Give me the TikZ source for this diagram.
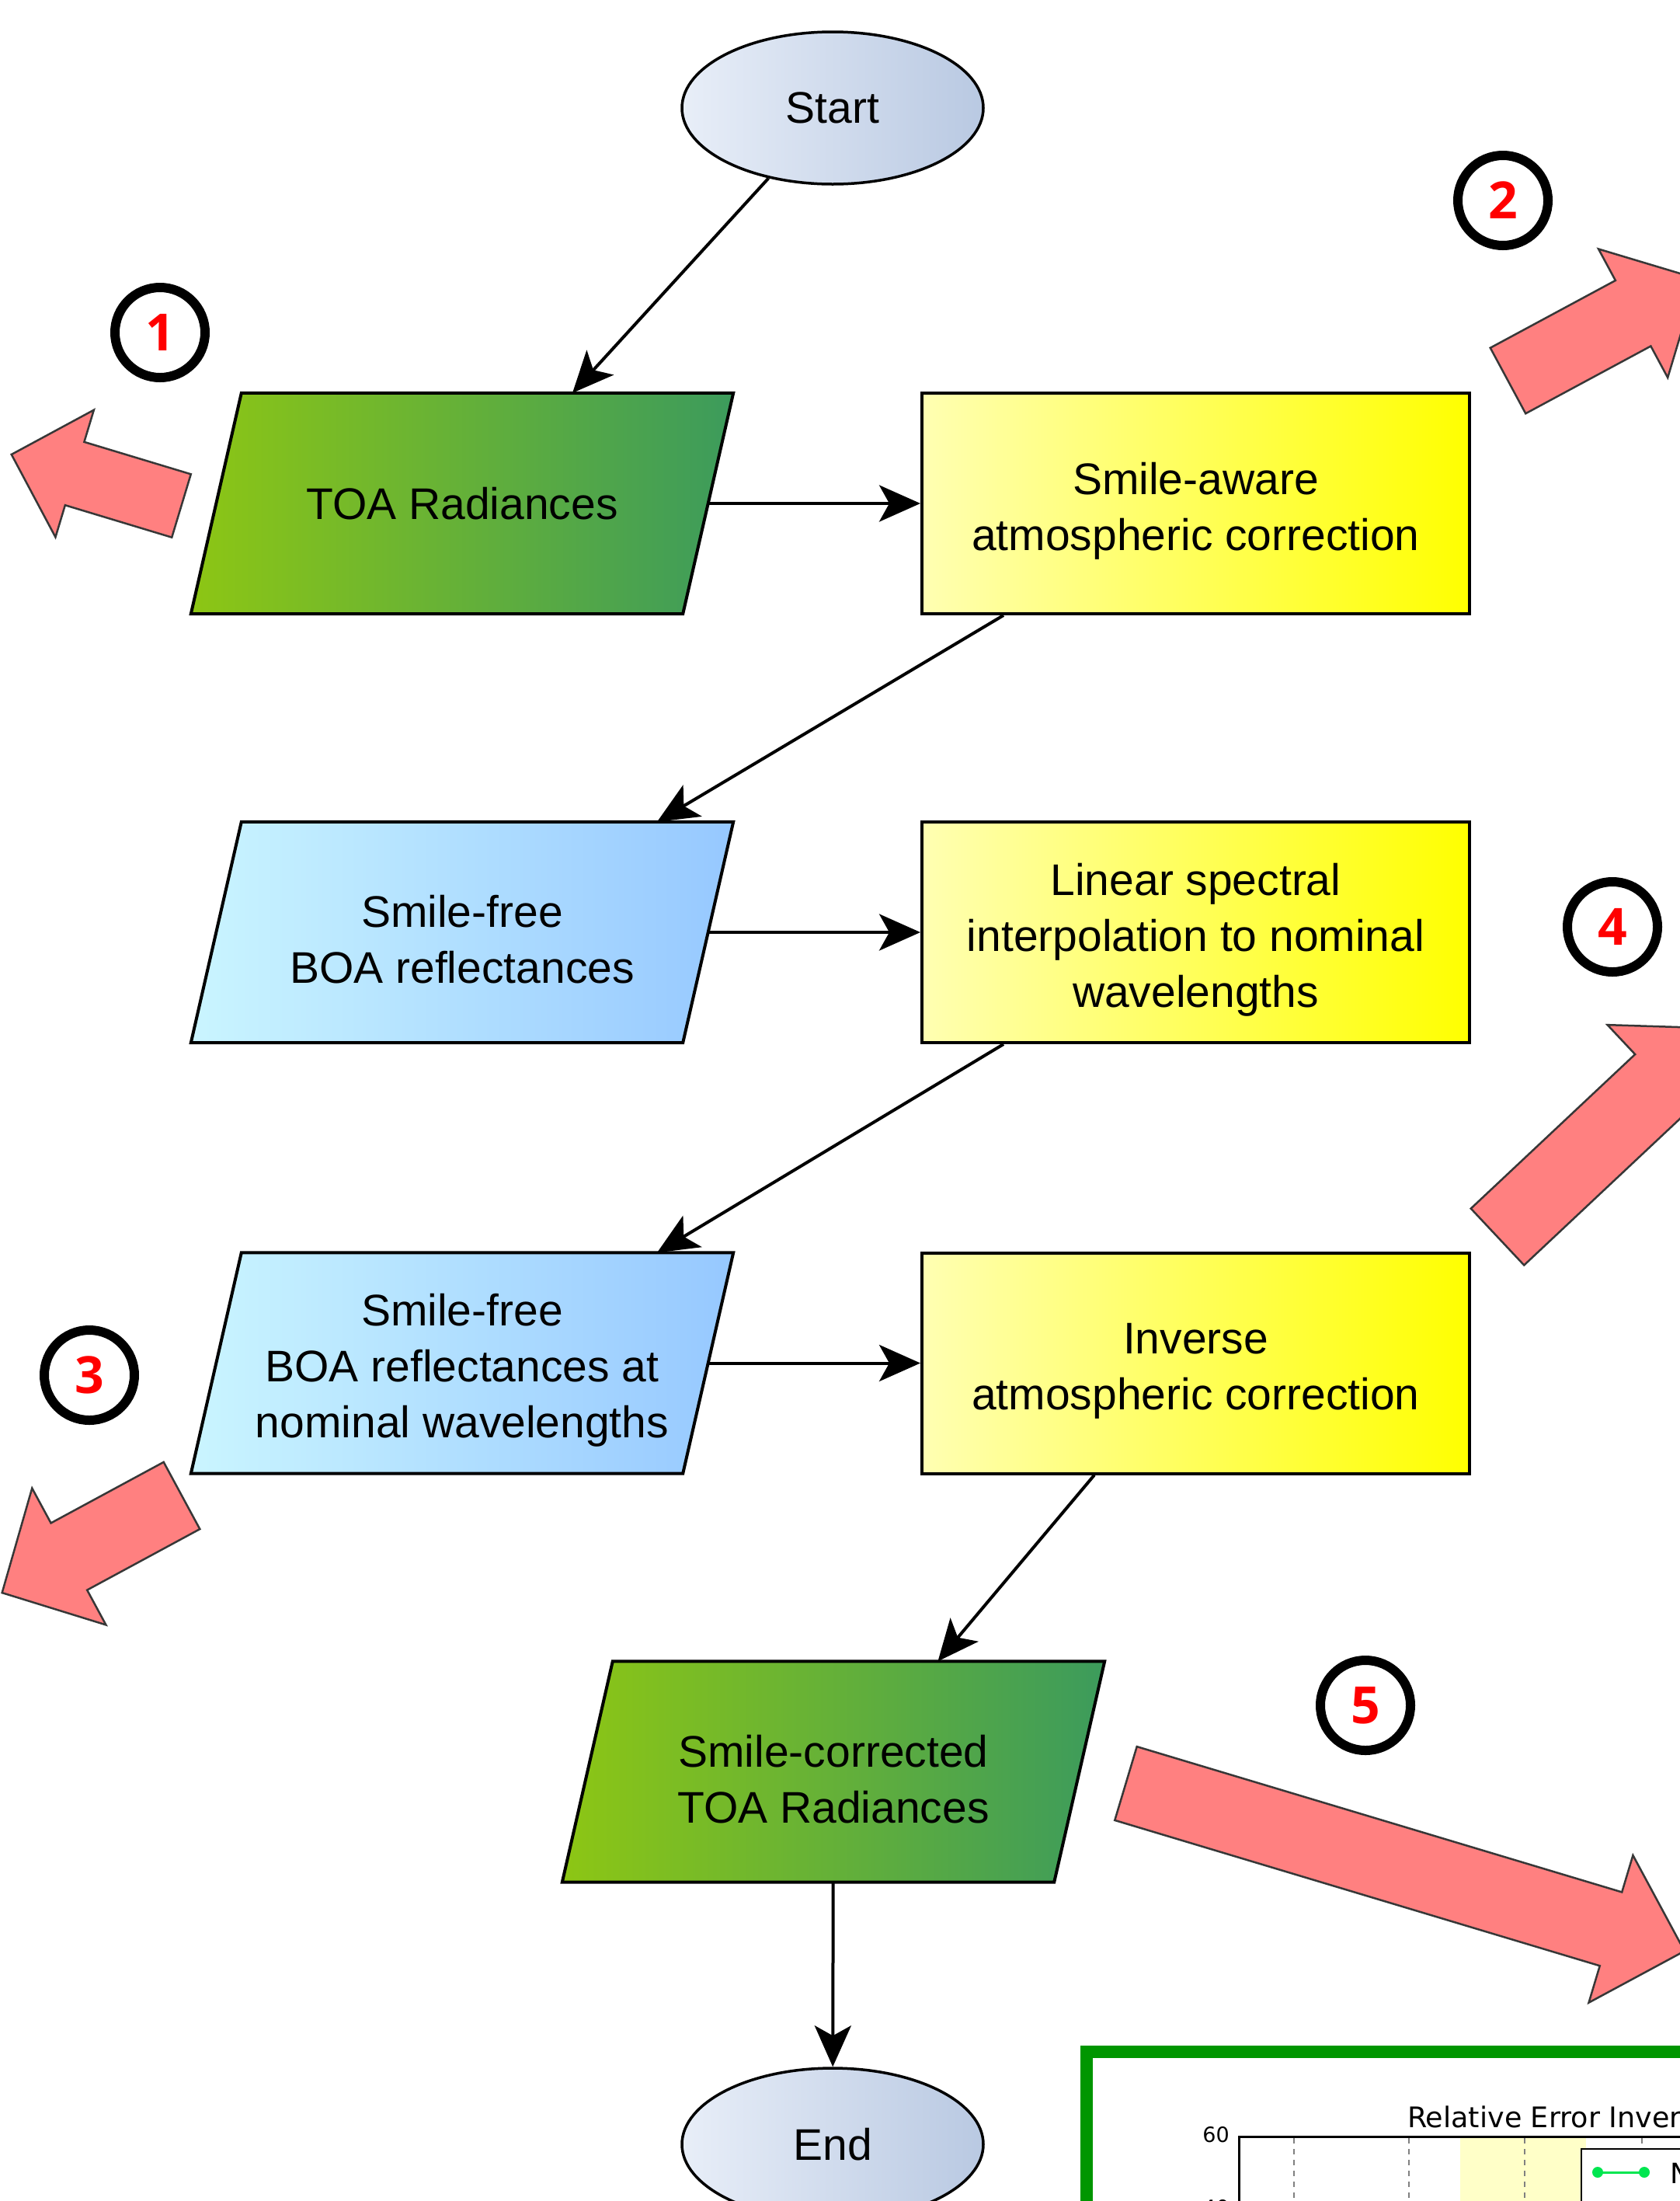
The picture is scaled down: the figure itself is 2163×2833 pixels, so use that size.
\documentclass[tikz,border=0pt]{standalone}
\usepackage{fontspec}
\setmainfont{Liberation Sans}
\newfontfamily\numfont{Open Sans}
\newfontfamily\chartfont{DejaVu Sans}
\usetikzlibrary{shapes.geometric,arrows.meta,calc}
\pgfdeclarelayer{bg}
\pgfsetlayers{bg,main}
\definecolor{ylo}{RGB}{255,255,178}
\definecolor{yhi}{RGB}{255,255,0}
\definecolor{glo}{RGB}{141,198,20}
\definecolor{ghi}{RGB}{60,155,92}
\definecolor{blo}{RGB}{202,245,255}
\definecolor{bhi}{RGB}{150,200,255}
\definecolor{elo}{RGB}{232,238,248}
\definecolor{ehi}{RGB}{185,201,226}
\definecolor{salmon}{RGB}{255,128,128}
\definecolor{arrowedge}{RGB}{55,55,55}
\definecolor{framegreen}{RGB}{0,150,0}
\definecolor{legendgreen}{RGB}{0,230,80}
\definecolor{bandyellow}{RGB}{255,255,200}
\newcommand\firstline{\rule{0pt}{60pt}}
\tikzset{
  txt/.style={font=\fontsize{57}{72}\selectfont, align=center},
  box/.style={txt, draw, line width=4pt, minimum width=705pt, minimum height=284pt,
    inner sep=0pt, left color=ylo, right color=yhi},
  paratext/.style={txt, minimum width=633pt, minimum height=284pt, inner sep=0pt},
  term/.style={txt, ellipse, draw, line width=3.5pt, minimum width=388pt,
    minimum height=196pt, inner sep=0pt, left color=elo, right color=ehi},
  conn/.style={line width=4pt, -{Stealth[length=53pt,width=47pt,inset=13pt]}},
  num/.style={circle, draw, line width=12pt, minimum size=116pt, inner sep=0pt,
    text=red, font=\numfont\bfseries\fontsize{66}{66}\selectfont},
  bigarrow/.style={fill=salmon, draw=arrowedge, line width=2.5pt, line join=miter},
  paraedge/.style={draw, line width=4pt, line join=miter},
}
% parallelogram behind a text node: node name, left colour, right colour
\newcommand\paraback[3]{%
  \begin{pgfonlayer}{bg}
    \path[paraedge, left color=#2, right color=#3]
      ($(#1.north west)+(32.5,0)$) -- ($(#1.north east)+(32.5,0)$) --
      ($(#1.south east)+(-32.5,0)$) -- ($(#1.south west)+(-32.5,0)$) -- cycle;
  \end{pgfonlayer}}
% block arrow: tail x, tail y, angle, shaft length, half shaft width, half head width, head length
\newcommand\blockarrow[7]{%
  \begin{scope}[shift={(#1,#2)}, rotate=#3]
    \path[bigarrow] (0,-#5) -- (#4,-#5) -- (#4,-#6) -- ({#4+#7},0) --
      (#4,#6) -- (#4,#5) -- (0,#5) -- cycle;
  \end{scope}}
\begin{document}
\begin{tikzpicture}[x=1pt, y=-1pt]
\useasboundingbox (0,0) rectangle (2163,2833);
\clip (0,0) rectangle (2163,2833);
\begin{pgfonlayer}{bg}
  \fill[white] (0,0) rectangle (2163,2833);
\end{pgfonlayer}

% flow nodes
\node[term] (start) at (1072,139) {Start};
\node[paratext] (toa) at (595,648) {TOA Radiances};
\node[box] (sa) at (1539.5,648) {\firstline Smile-aware\\atmospheric correction};
\node[paratext] (boa1) at (595,1200) {\firstline Smile-free\\BOA reflectances};
\node[box] (lin) at (1539.5,1200) {\firstline Linear spectral\\interpolation to nominal\\wavelengths};
\node[paratext] (boa2) at (595,1754.5) {\firstline Smile-free\\BOA reflectances at\\nominal wavelengths};
\node[box] (inv) at (1539.5,1754.5) {\firstline Inverse\\atmospheric correction};
\node[paratext] (sc) at (1073,2280.5) {\firstline Smile-corrected\\TOA Radiances};
\node[term] (end) at (1072,2760) {End};

\paraback{toa}{glo}{ghi}
\paraback{boa1}{blo}{bhi}
\paraback{boa2}{blo}{bhi}
\paraback{sc}{glo}{ghi}

% connectors
\draw[conn] (start) -- ($(toa.north)+(142,0)$);
\draw[conn] (toa.east) -- (sa.west);
\draw[conn] ($(sa.south west)+(107,0)$) -- ($(boa1.north)+(251,0)$);
\draw[conn] (boa1.east) -- (lin.west);
\draw[conn] ($(lin.south west)+(107,0)$) -- ($(boa2.north)+(251,0)$);
\draw[conn] (boa2.east) -- (inv.west);
\draw[conn] ($(inv.south west)+(224,0)$) -- ($(sc.north)+(134.5,0)$);
\draw[conn] (sc) -- (end);

% red block arrows
\blockarrow{233.5}{651}{163.2}{143.5}{42.5}{85.5}{85}
\blockarrow{1941.5}{490}{28.3}{183}{48}{94}{94}
\blockarrow{234}{1925}{-151.6}{165}{49}{100}{98}
\blockarrow{1928}{1592}{43.2}{290}{50}{102}{102}
\blockarrow{1449.5}{2295.5}{-16.7}{652}{49.5}{99}{99}

% numbered circles
\node[num] (n1) at (206,428) {1};
\node[num] (n2) at (1935,258) {2};
\node[num] (n3) at (115,1770) {3};
\node[num] (n4) at (2076,1193) {4};
\node[num] (n5) at (1758,2195) {5};

% chart fragment
\draw[framegreen, line width=16pt] (1399,2641) rectangle (2300,3000);
\fill[bandyellow] (1880,2750) rectangle (2042,2900);
\foreach \gx in {1666,1814,1963,2114}
  \draw[gray, line width=2pt, dash pattern=on 7pt off 7pt] (\gx,2752) -- (\gx,2900);
\draw[line width=3pt] (1595,2900) -- (1595,2750) -- (2300,2750);
\draw[fill=white, line width=2.5pt] (2036,2766) rectangle (2300,3000);
\draw[legendgreen, line width=3pt] (2057,2796) -- (2117,2796);
\fill[legendgreen] (2057,2796) circle (7) (2117,2796) circle (7);
\node[anchor=west, inner sep=0pt, font=\chartfont\fontsize{36}{36}\selectfont] (legtxt) at (2150,2797) {N};
\node[anchor=base west, inner sep=0pt, font=\chartfont\fontsize{36.5}{36.5}\selectfont] (title) at (1812,2738) {Relative Error Inver};
\node[anchor=east, inner sep=0pt, font=\chartfont\fontsize{27}{27}\selectfont] (t60) at (1583,2748) {60};
\node[anchor=east, inner sep=0pt, font=\chartfont\fontsize{27}{27}\selectfont] (t40) at (1583,2842) {40};
\end{tikzpicture}
\end{document}
